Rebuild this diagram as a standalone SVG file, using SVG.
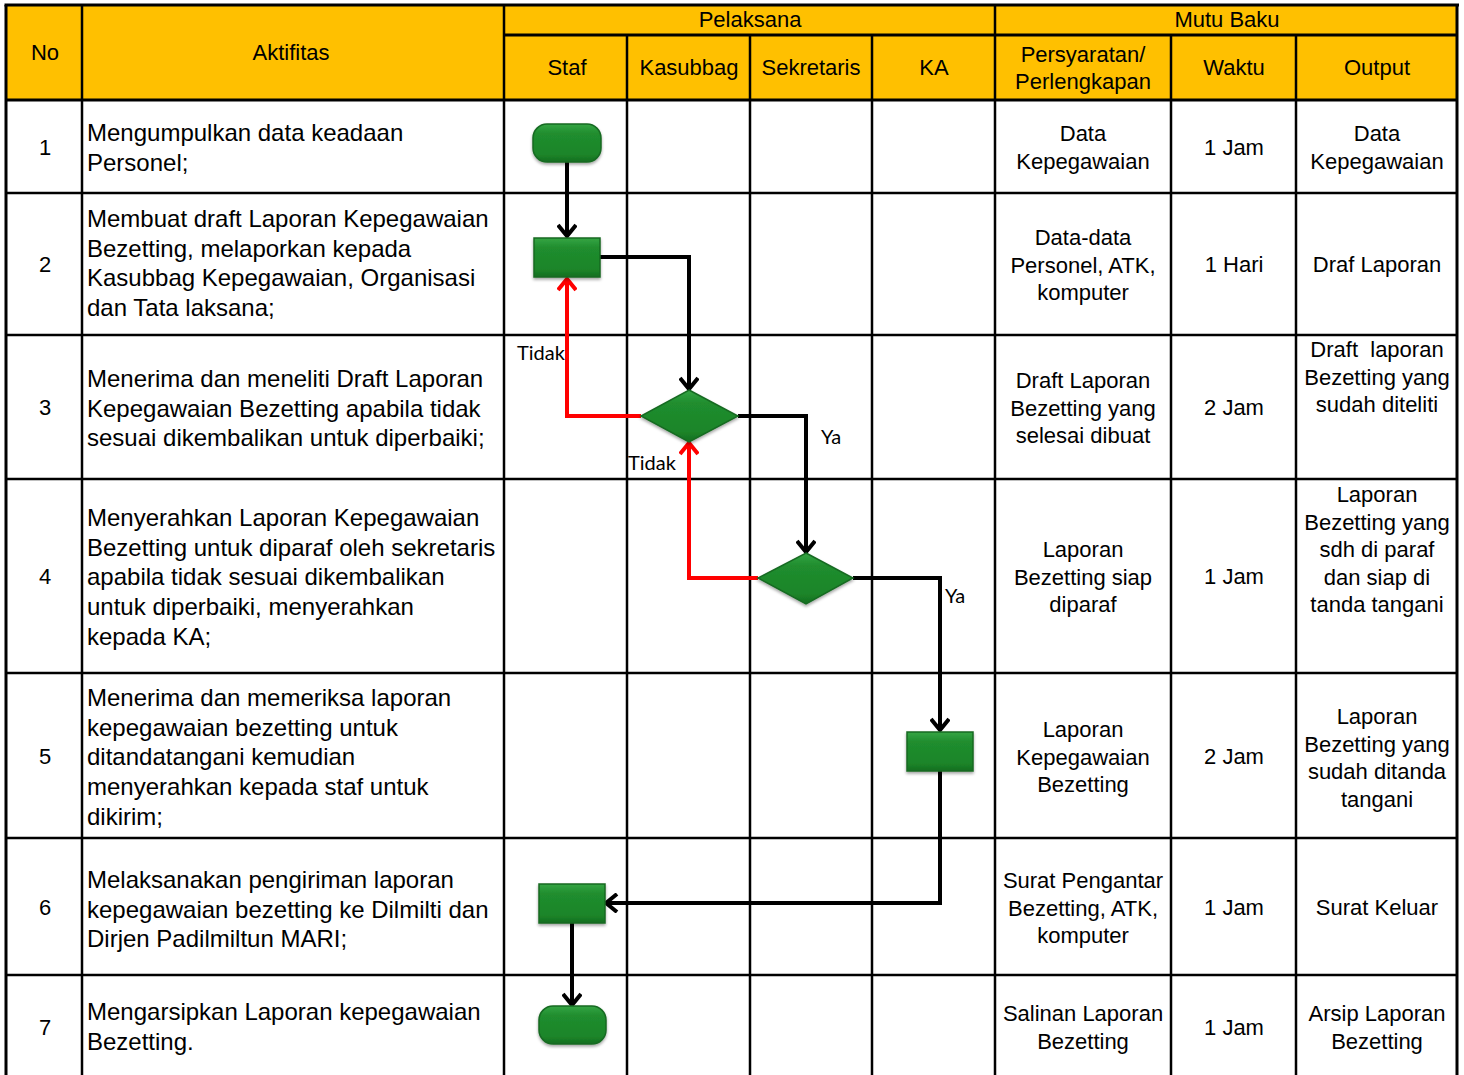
<svg xmlns="http://www.w3.org/2000/svg" width="1464" height="1075" viewBox="0 0 1464 1075">
<defs>
<style>
.t{font-family:"Liberation Sans",Arial,sans-serif;font-size:22px;fill:#000;text-anchor:middle}
.a{font-family:"Liberation Sans",Arial,sans-serif;font-size:24px;fill:#000}
.lbl{font-family:Lato,"Open Sans",sans-serif;font-size:20px;fill:#000}
.g{stroke:#000;stroke-width:2.5;fill:none}
.hb{stroke:#000;stroke-width:3;fill:none}
.c{fill:none;stroke:#000;stroke-width:4}
.r{fill:none;stroke:#f00;stroke-width:4}
.sh{fill:url(#gr);stroke:#176a22;stroke-width:1.5;filter:url(#ds)}
</style>
<linearGradient id="gr" x1="0" y1="0" x2="0" y2="1">
<stop offset="0" stop-color="#35a544"/>
<stop offset="0.25" stop-color="#208d2e"/>
<stop offset="0.8" stop-color="#1c8529"/>
<stop offset="1" stop-color="#156e20"/>
</linearGradient>
<filter id="ds" x="-20%" y="-20%" width="140%" height="150%">
<feDropShadow dx="0" dy="2" stdDeviation="1.5" flood-color="#000" flood-opacity="0.35"/>
</filter>
<marker id="ak" viewBox="0 0 20 20" refX="16" refY="10" markerWidth="20" markerHeight="20" markerUnits="userSpaceOnUse" orient="auto">
<path d="M5,1 L16,10 L5,19" fill="none" stroke="#000" stroke-width="4"/>
</marker>
<marker id="ar" viewBox="0 0 20 20" refX="16" refY="10" markerWidth="20" markerHeight="20" markerUnits="userSpaceOnUse" orient="auto">
<path d="M5,1 L16,10 L5,19" fill="none" stroke="#f00" stroke-width="4"/>
</marker>
</defs>
<rect width="1464" height="1075" fill="#fff"/>

<g id="table">
<rect x="6" y="5" width="1451" height="95" fill="#FFC000"/>
<line class="hb" x1="4.5" y1="5" x2="1459" y2="5"/>
<line class="hb" x1="504" y1="35" x2="1457" y2="35"/>
<line class="hb" x1="6" y1="100" x2="1457" y2="100"/>
<line class="hb" x1="6" y1="5" x2="6" y2="1075"/>
<line class="hb" x1="1457" y1="5" x2="1457" y2="1075"/>
<line class="g" x1="82" y1="5" x2="82" y2="1075"/>
<line class="g" x1="504" y1="5" x2="504" y2="1075"/>
<line class="g" x1="995" y1="5" x2="995" y2="1075"/>
<line class="g" x1="627" y1="35" x2="627" y2="1075"/>
<line class="g" x1="750" y1="35" x2="750" y2="1075"/>
<line class="g" x1="872" y1="35" x2="872" y2="1075"/>
<line class="g" x1="1171" y1="35" x2="1171" y2="1075"/>
<line class="g" x1="1296" y1="35" x2="1296" y2="1075"/>
<line class="g" x1="6" y1="193" x2="1457" y2="193"/>
<line class="g" x1="6" y1="335" x2="1457" y2="335"/>
<line class="g" x1="6" y1="479" x2="1457" y2="479"/>
<line class="g" x1="6" y1="673" x2="1457" y2="673"/>
<line class="g" x1="6" y1="838" x2="1457" y2="838"/>
<line class="g" x1="6" y1="975" x2="1457" y2="975"/>
</g>

<g id="header">
<text class="t" x="45" y="60">No</text>
<text class="t" x="291" y="60">Aktifitas</text>
<text class="t" x="750" y="27">Pelaksana</text>
<text class="t" x="1227" y="27">Mutu Baku</text>
<text class="t" x="567" y="75">Staf</text>
<text class="t" x="689" y="75">Kasubbag</text>
<text class="t" x="811" y="75">Sekretaris</text>
<text class="t" x="934" y="75">KA</text>
<text class="t" x="1083" y="62">Persyaratan/</text>
<text class="t" x="1083" y="89">Perlengkapan</text>
<text class="t" x="1234" y="75">Waktu</text>
<text class="t" x="1377" y="75">Output</text>
</g>

<g id="row1">
<text class="t" x="45" y="154.5">1</text>
<text class="a" x="87" y="141"><tspan x="87">Mengumpulkan data keadaan</tspan><tspan x="87" dy="29.7">Personel;</tspan></text>
<text class="t" x="1083" y="141"><tspan x="1083">Data</tspan><tspan x="1083" dy="27.5">Kepegawaian</tspan></text>
<text class="t" x="1234" y="154.5">1 Jam</text>
<text class="t" x="1377" y="141"><tspan x="1377">Data</tspan><tspan x="1377" dy="27.5">Kepegawaian</tspan></text>
</g>

<g id="row2">
<text class="t" x="45" y="272">2</text>
<text class="a" x="87" y="227"><tspan x="87">Membuat draft Laporan Kepegawaian</tspan><tspan x="87" dy="29.7">Bezetting, melaporkan kepada</tspan><tspan x="87" dy="29.7">Kasubbag Kepegawaian, Organisasi</tspan><tspan x="87" dy="29.7">dan Tata laksana;</tspan></text>
<text class="t" x="1083" y="245"><tspan x="1083">Data-data</tspan><tspan x="1083" dy="27.5">Personel, ATK,</tspan><tspan x="1083" dy="27.5">komputer</tspan></text>
<text class="t" x="1234" y="272">1 Hari</text>
<text class="t" x="1377" y="272">Draf Laporan</text>
</g>

<g id="row3">
<text class="t" x="45" y="415">3</text>
<text class="a" x="87" y="387"><tspan x="87">Menerima dan meneliti Draft Laporan</tspan><tspan x="87" dy="29.7">Kepegawaian Bezetting apabila tidak</tspan><tspan x="87" dy="29.7">sesuai dikembalikan untuk diperbaiki;</tspan></text>
<text class="t" x="1083" y="388"><tspan x="1083">Draft Laporan</tspan><tspan x="1083" dy="27.5">Bezetting yang</tspan><tspan x="1083" dy="27.5">selesai dibuat</tspan></text>
<text class="t" x="1234" y="415">2 Jam</text>
<text class="t" x="1377" y="357" style="white-space:pre"><tspan x="1377">Draft  laporan</tspan><tspan x="1377" dy="27.5">Bezetting yang</tspan><tspan x="1377" dy="27.5">sudah diteliti</tspan></text>
</g>

<g id="row4">
<text class="t" x="45" y="584">4</text>
<text class="a" x="87" y="526"><tspan x="87">Menyerahkan Laporan Kepegawaian</tspan><tspan x="87" dy="29.7">Bezetting untuk diparaf oleh sekretaris</tspan><tspan x="87" dy="29.7">apabila tidak sesuai dikembalikan</tspan><tspan x="87" dy="29.7">untuk diperbaiki, menyerahkan</tspan><tspan x="87" dy="29.7">kepada KA;</tspan></text>
<text class="t" x="1083" y="557"><tspan x="1083">Laporan</tspan><tspan x="1083" dy="27.5">Bezetting siap</tspan><tspan x="1083" dy="27.5">diparaf</tspan></text>
<text class="t" x="1234" y="584">1 Jam</text>
<text class="t" x="1377" y="502"><tspan x="1377">Laporan</tspan><tspan x="1377" dy="27.5">Bezetting yang</tspan><tspan x="1377" dy="27.5">sdh di paraf</tspan><tspan x="1377" dy="27.5">dan siap di</tspan><tspan x="1377" dy="27.5">tanda tangani</tspan></text>
</g>

<g id="row5">
<text class="t" x="45" y="764">5</text>
<text class="a" x="87" y="706"><tspan x="87">Menerima dan memeriksa laporan</tspan><tspan x="87" dy="29.7">kepegawaian bezetting untuk</tspan><tspan x="87" dy="29.7">ditandatangani kemudian</tspan><tspan x="87" dy="29.7">menyerahkan kepada staf untuk</tspan><tspan x="87" dy="29.7">dikirim;</tspan></text>
<text class="t" x="1083" y="737"><tspan x="1083">Laporan</tspan><tspan x="1083" dy="27.5">Kepegawaian</tspan><tspan x="1083" dy="27.5">Bezetting</tspan></text>
<text class="t" x="1234" y="764">2 Jam</text>
<text class="t" x="1377" y="724"><tspan x="1377">Laporan</tspan><tspan x="1377" dy="27.5">Bezetting yang</tspan><tspan x="1377" dy="27.5">sudah ditanda</tspan><tspan x="1377" dy="27.5">tangani</tspan></text>
</g>

<g id="row6">
<text class="t" x="45" y="915">6</text>
<text class="a" x="87" y="888"><tspan x="87">Melaksanakan pengiriman laporan</tspan><tspan x="87" dy="29.7">kepegawaian bezetting ke Dilmilti dan</tspan><tspan x="87" dy="29.7">Dirjen Padilmiltun MARI;</tspan></text>
<text class="t" x="1083" y="888"><tspan x="1083">Surat Pengantar</tspan><tspan x="1083" dy="27.5">Bezetting, ATK,</tspan><tspan x="1083" dy="27.5">komputer</tspan></text>
<text class="t" x="1234" y="915">1 Jam</text>
<text class="t" x="1377" y="915">Surat Keluar</text>
</g>

<g id="row7">
<text class="t" x="45" y="1035">7</text>
<text class="a" x="87" y="1020"><tspan x="87">Mengarsipkan Laporan kepegawaian</tspan><tspan x="87" dy="29.7">Bezetting.</tspan></text>
<text class="t" x="1083" y="1021"><tspan x="1083">Salinan Laporan</tspan><tspan x="1083" dy="27.5">Bezetting</tspan></text>
<text class="t" x="1234" y="1035">1 Jam</text>
<text class="t" x="1377" y="1021"><tspan x="1377">Arsip Laporan</tspan><tspan x="1377" dy="27.5">Bezetting</tspan></text>
</g>

<g id="connectors">
<path class="c" d="M567,162 V236" marker-end="url(#ak)"/>
<path class="c" d="M600,257 H689 V389" marker-end="url(#ak)"/>
<path class="r" d="M641,416 H567 V279" marker-end="url(#ar)"/>
<path class="c" d="M738,416 H806 V552" marker-end="url(#ak)"/>
<path class="r" d="M758,578 H689 V443" marker-end="url(#ar)"/>
<path class="c" d="M853,578 H940 V730" marker-end="url(#ak)"/>
<path class="c" d="M940,771 V903 H606" marker-end="url(#ak)"/>
<path class="c" d="M572,923 V1005" marker-end="url(#ak)"/>
<text class="lbl" x="517" y="360">Tidak</text>
<text class="lbl" x="628" y="470">Tidak</text>
<text class="lbl" x="821" y="444">Ya</text>
<text class="lbl" x="945" y="603">Ya</text>
</g>

<g id="start">
<rect class="sh" x="533" y="124" width="68" height="38" rx="14" ry="14"/>
</g>
<g id="draft">
<rect class="sh" x="534" y="238" width="66" height="39"/>
</g>
<g id="check-kasubbag">
<polygon class="sh" points="689,390 738,416 689,442 641,416"/>
</g>
<g id="check-sekretaris">
<polygon class="sh" points="806,553 853,578 806,604 758,578"/>
</g>
<g id="sign-ka">
<rect class="sh" x="907" y="732" width="66" height="39"/>
</g>
<g id="send">
<rect class="sh" x="539" y="884" width="66" height="39"/>
</g>
<g id="end">
<rect class="sh" x="539" y="1006" width="67" height="38" rx="14" ry="14"/>
</g>
</svg>
